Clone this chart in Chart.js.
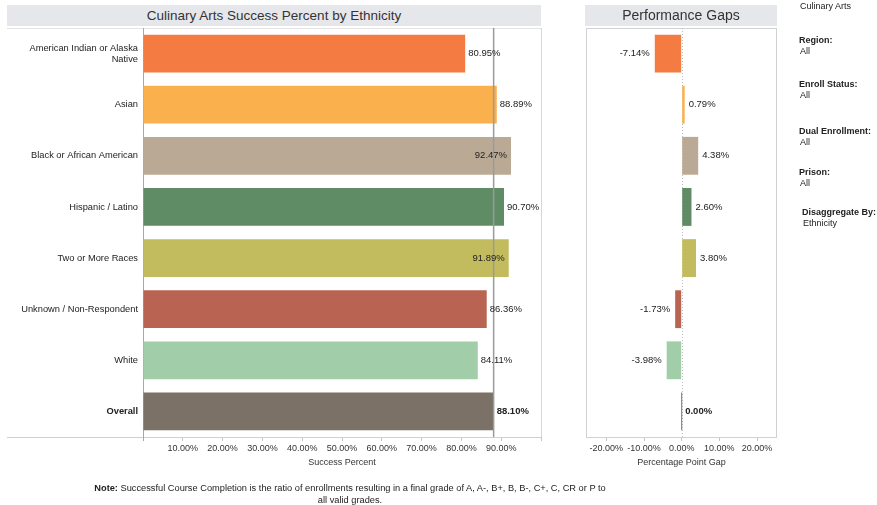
<!DOCTYPE html>
<html>
<head>
<meta charset="utf-8">
<script src="https://cdn.jsdelivr.net/npm/chart.js@4/dist/chart.umd.min.js"></script>
<style>
  html, body { margin: 0; padding: 0; background: #fff; }
  body { width: 877px; height: 505px; position: relative; overflow: hidden;
         font-family: "Liberation Sans", Arial, sans-serif; color: #222; }
  canvas { position: absolute; left: 0; top: 0; }
  .band { position: absolute; background: #e6e7eb; color: #333; text-align: center;
          font-size: 13.5px; line-height: 21px; height: 21px; top: 5px; }
  .side { position: absolute; font-size: 9px; line-height: 10px; white-space: nowrap; color: #222; }
  .side b { font-weight: bold; }
  .note { position: absolute; left: 50px; width: 600px; top: 482px; font-size: 9.25px;
          line-height: 12px; text-align: center; color: #222; }
</style>
</head>
<body>
<canvas id="success" width="877" height="505"></canvas>
<canvas id="gaps" width="877" height="505"></canvas>

<div class="band" style="left:7px;width:534px;">Culinary Arts Success Percent by Ethnicity</div>
<div class="band" style="left:585px;width:192px;font-size:14px;">Performance Gaps</div>

<div class="side" style="left:800px;top:1px;">Culinary Arts</div>
<div class="side" style="left:799px;top:35px;"><b>Region:</b></div>
<div class="side" style="left:800px;top:46px;">All</div>
<div class="side" style="left:799px;top:79px;"><b>Enroll Status:</b></div>
<div class="side" style="left:800px;top:90px;">All</div>
<div class="side" style="left:799px;top:126px;"><b>Dual Enrollment:</b></div>
<div class="side" style="left:800px;top:137px;">All</div>
<div class="side" style="left:799px;top:167px;"><b>Prison:</b></div>
<div class="side" style="left:800px;top:178px;">All</div>
<div class="side" style="left:802px;top:207px;"><b>Disaggregate By:</b></div>
<div class="side" style="left:803px;top:218px;">Ethnicity</div>

<div class="note"><b>Note:</b> Successful Course Completion is the ratio of enrollments resulting in a final grade of A, A-, B+, B, B-, C+, C, CR or P to<br>all valid grades.</div>

<script>
// Ethnic groups, top to bottom; the last row is the overall rate.
const categories = [
  ['American Indian or Alaska', 'Native'],
  'Asian',
  'Black or African American',
  'Hispanic / Latino',
  'Two or More Races',
  'Unknown / Non-Respondent',
  'White',
  'Overall'
];
// Course success rate (%) per group
const successPct = [80.95, 88.89, 92.47, 90.70, 91.89, 86.36, 84.11, 88.10];
// Gap to the overall rate (percentage points)
const gapPct = [-7.14, 0.79, 4.38, 2.60, 3.80, -1.73, -3.98, 0.00];
// Axis ticks
const successTicks = [0, 10, 20, 30, 40, 50, 60, 70, 80, 90, 100];
const successTickLabels = [10, 20, 30, 40, 50, 60, 70, 80, 90];
const gapTicks = [-20, -10, 0, 10, 20];

const groupColors = ['#f47c43', '#fbb04e', '#baaa95', '#5f8b65', '#c2bc5e', '#b96452', '#a1cda8', '#7c7166'];
const overallIndex = categories.length - 1;

Chart.defaults.font.family = '"Liberation Sans", Arial, sans-serif';
Chart.defaults.font.size = 9;
Chart.defaults.color = '#333';

const pct = v => v.toFixed(2) + '%';
const labelFont = i => (i === overallIndex ? 'bold ' : '') + '9.5px "Liberation Sans", Arial, sans-serif';

// Light frame lines around the plot areas
function line(ctx, x1, y1, x2, y2, color, width, dash) {
  ctx.save();
  ctx.strokeStyle = color;
  ctx.lineWidth = width || 1;
  if (dash) ctx.setLineDash(dash);
  ctx.beginPath();
  ctx.moveTo(x1, y1);
  ctx.lineTo(x2, y2);
  ctx.stroke();
  ctx.restore();
}

const successDecor = {
  id: 'successDecor',
  beforeDatasetsDraw(chart) {
    const { ctx, chartArea: a } = chart;
    line(ctx, 7, a.bottom + 0.5, a.right, a.bottom + 0.5, '#cfcfcf');
    line(ctx, a.right + 0.5, a.top, a.right + 0.5, a.bottom, '#d6d6d6');
    line(ctx, 7, a.top + 0.5, a.right, a.top + 0.5, '#e4e4e4');
    line(ctx, a.left + 0.5, a.top, a.left + 0.5, a.bottom + 4, '#a8a8a8');
  },
  afterDatasetsDraw(chart) {
    const { ctx, chartArea: a } = chart;
    const xs = chart.scales.x;
    // reference line at the overall rate
    const rx = xs.getPixelForValue(successPct[overallIndex]);
    line(ctx, rx, a.top, rx, a.bottom, '#9a9a9a', 1.5);
    // value labels
    const meta = chart.getDatasetMeta(0);
    ctx.save();
    ctx.fillStyle = '#222';
    ctx.textBaseline = 'middle';
    meta.data.forEach((bar, i) => {
      const text = pct(successPct[i]);
      ctx.font = labelFont(i);
      const w = ctx.measureText(text).width;
      if (bar.x + 3 + w > a.right) {
        ctx.textAlign = 'right';
        ctx.fillText(text, bar.x - 4, bar.y);
      } else {
        ctx.textAlign = 'left';
        ctx.fillText(text, bar.x + 3, bar.y);
      }
    });
    ctx.restore();
  }
};

const gapDecor = {
  id: 'gapDecor',
  beforeDatasetsDraw(chart) {
    const { ctx, chartArea: a } = chart;
    ctx.save();
    ctx.strokeStyle = '#d2d2d2';
    ctx.lineWidth = 1;
    ctx.strokeRect(a.left + 0.5, a.top + 0.5, a.right - a.left - 1, a.bottom - a.top);
    ctx.restore();
    const zx = Math.round(chart.scales.x.getPixelForValue(0)) + 0.5;
    line(ctx, zx, a.top, zx, a.bottom, '#bdbdbd', 1, [1, 2]);
  },
  afterDatasetsDraw(chart) {
    const meta = chart.getDatasetMeta(0);
    const { ctx } = chart;
    ctx.save();
    ctx.fillStyle = '#222';
    ctx.textBaseline = 'middle';
    meta.data.forEach((bar, i) => {
      const v = gapPct[i];
      ctx.font = labelFont(i);
      if (v < 0) {
        ctx.textAlign = 'right';
        ctx.fillText(pct(v), bar.x - 5, bar.y);
      } else {
        ctx.textAlign = 'left';
        ctx.fillText(pct(v), bar.x + 4, bar.y);
      }
    });
    ctx.restore();
  }
};

const tickMarkGrid = { drawOnChartArea: false, drawTicks: true, tickLength: 4, color: '#c4c4c4' };

new Chart(document.getElementById('success'), {
  type: 'bar',
  data: {
    labels: categories,
    datasets: [{
      data: successPct,
      backgroundColor: groupColors,
      borderWidth: 0,
      categoryPercentage: 1,
      barPercentage: 0.74
    }]
  },
  options: {
    indexAxis: 'y',
    responsive: false,
    animation: false,
    devicePixelRatio: 1,
    layout: { padding: { left: 0, right: 336, top: 28, bottom: 37 } },
    plugins: { legend: { display: false }, tooltip: { enabled: false } },
    scales: {
      x: {
        min: 0, max: 100,
        afterBuildTicks: s => { s.ticks = successTicks.map(v => ({ value: v })); },
        afterFit: s => { s.height = 31; },
        grid: tickMarkGrid,
        border: { display: false },
        ticks: {
          padding: 2,
          color: '#333',
          maxRotation: 0,
          autoSkip: false,
          callback: v => successTickLabels.includes(v) ? pct(v) : ''
        },
        title: { display: true, text: 'Success Percent', color: '#333', padding: 0, font: { size: 9 } }
      },
      y: {
        afterFit: s => { s.width = 143; },
        grid: { display: false, drawTicks: false },
        border: { display: false },
        ticks: {
          padding: 5,
          color: '#222',
          autoSkip: false,
          font: c => ({ size: 9.3, weight: c.index === overallIndex ? 'bold' : 'normal', lineHeight: 1.2 })
        }
      }
    }
  },
  plugins: [successDecor]
});

new Chart(document.getElementById('gaps'), {
  type: 'bar',
  data: {
    labels: categories,
    datasets: [{
      data: gapPct,
      backgroundColor: groupColors,
      borderWidth: 0,
      minBarLength: 1,
      categoryPercentage: 1,
      barPercentage: 0.74
    }]
  },
  options: {
    indexAxis: 'y',
    responsive: false,
    animation: false,
    devicePixelRatio: 1,
    layout: { padding: { left: 586, right: 100, top: 28, bottom: 37 } },
    plugins: { legend: { display: false }, tooltip: { enabled: false } },
    scales: {
      x: {
        min: -25.4, max: 25.3,
        afterBuildTicks: s => { s.ticks = gapTicks.map(v => ({ value: v })); },
        afterFit: s => { s.height = 31; },
        grid: tickMarkGrid,
        border: { display: false },
        ticks: { padding: 2, color: '#333', maxRotation: 0, autoSkip: false, callback: v => pct(v) },
        title: { display: true, text: 'Percentage Point Gap', color: '#333', padding: 0, font: { size: 9 } }
      },
      y: { display: false }
    }
  },
  plugins: [gapDecor]
});
</script>
</body>
</html>
